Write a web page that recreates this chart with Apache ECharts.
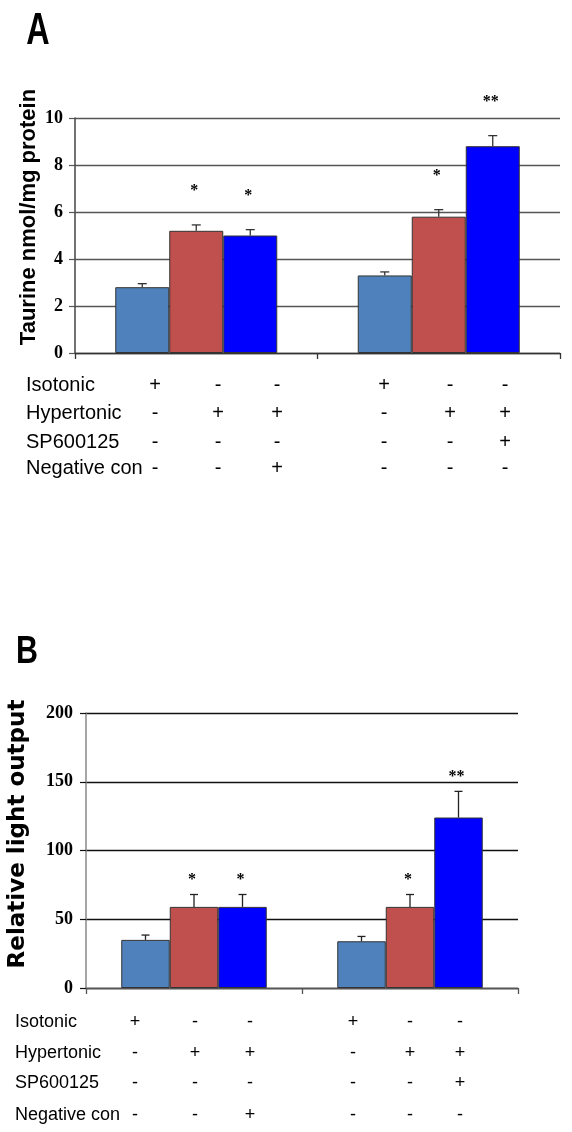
<!DOCTYPE html>
<html><head><meta charset="utf-8">
<script src="https://cdn.jsdelivr.net/npm/echarts@6/dist/echarts.min.js"></script>
<style>html,body{margin:0;padding:0;background:#fff}#c{width:572px;height:1132px}</style>
</head><body><div id="c"></div>
<script>
// ---------- data ----------
const groups = ['Group 1', 'Group 2'];
const seriesNames = ['Isotonic', 'Hypertonic', 'Treated'];
// Panel A: Taurine nmol/mg protein
const taurineIso = [2.8, 3.3];
const taurineHyper = [5.2, 5.8];
const taurineThird = [5.0, 8.8];
const taurineIsoErr = [0.15, 0.15];
const taurineHyperErr = [0.25, 0.3];
const taurineThirdErr = [0.25, 0.45];
// Panel B: Relative light output
const lightIso = [35, 34];
const lightHyper = [59, 59];
const lightThird = [59, 124];
const lightIsoErr = [3.5, 3.5];
const lightHyperErr = [9, 9];
const lightThirdErr = [9, 19];
// significance marks
const sigIso = ['', ''];
const sigHyper = ['*', '*'];
const sigThird = ['*', '**'];
// condition table
const rowLabels = ['Isotonic', 'Hypertonic', 'SP600125', 'Negative con'];
const rowIsotonic = ['+', '-', '-', '+', '-', '-'];
const rowHypertonic = ['-', '+', '+', '-', '+', '+'];
const rowSP600125 = ['-', '-', '-', '-', '-', '+'];
const rowNegative = ['-', '-', '+', '-', '-', '-'];
const panelLetters = ['A', 'B'];
const yNameA = 'Taurine nmol/mg protein';
const yNameB = 'Relative light output';

// ---------- styles / layout ----------
const colors = ['#4F81BD', '#C0504D', '#0000FF'];
const chart = echarts.init(document.getElementById('c'), null, {renderer: 'canvas'});

const layoutA = {top: 118, bottom: 779, left: 75, right: 12, barW: 54, errCap: 4.5, sigGap: 34,
  errColor: '#333', tableCols: [155, 218, 277, 384, 450, 505], tableRows: [385, 413, 442, 468], tableX: 26, tableFont: 20};
const layoutB = {top: 713, bottom: 144, left: 86, right: 54, barW: 48.5, errCap: 4, sigGap: 15,
  errColor: '#222', tableCols: [135, 195, 250, 353, 410, 460], tableRows: [1022, 1053, 1083, 1115], tableX: 15, tableFont: 18};

function barSeries(name, data, idx, gridIdx, L) {
  return {
    type: 'bar', name: name, data: data, xAxisIndex: gridIdx, yAxisIndex: gridIdx,
    barWidth: L.barW, barGap: '0%',
    itemStyle: {color: colors[idx], borderColor: '#333', borderWidth: 1},
    z: 2, silent: true
  };
}
function errSeries(vals, errs, sigs, idx, gridIdx, L) {
  return {
    type: 'custom', xAxisIndex: gridIdx, yAxisIndex: gridIdx, z: 5, silent: true,
    data: vals.map((v, i) => [i, v, errs[i]]),
    renderItem: function (params, api) {
      const ci = api.value(0), v = api.value(1), e = api.value(2);
      const off = (idx - 1) * L.barW;
      const base = api.coord([ci, v]);
      const top = api.coord([ci, v + e]);
      const x = base[0] + off;
      const children = [
        {type: 'line', shape: {x1: x, y1: base[1], x2: x, y2: top[1]}, style: {stroke: L.errColor, lineWidth: 1.3}},
        {type: 'line', shape: {x1: x - L.errCap, y1: top[1], x2: x + L.errCap, y2: top[1]}, style: {stroke: L.errColor, lineWidth: 1.3}}
      ];
      const s = sigs[params.dataIndex];
      if (s) {
        children.push({type: 'text', style: {text: s, x: x - 2, y: top[1] - L.sigGap, align: 'center', verticalAlign: 'middle',
          font: 'bold 16px "Liberation Serif", "Times New Roman", serif', fill: '#000'}});
      }
      return {type: 'group', children: children};
    }
  };
}
function xAxisFor(gridIdx, color) {
  return {
    type: 'category', data: groups, gridIndex: gridIdx,
    axisLine: {show: true, lineStyle: {color: color, width: 1.3}},
    axisTick: {show: true, length: 6, lineStyle: {color: color, width: 1.3}},
    axisLabel: {show: false}, splitLine: {show: false}
  };
}
function yAxisFor(gridIdx, max, interval, fontSize, margin, axisColor, gridColor) {
  return {
    type: 'value', gridIndex: gridIdx, min: 0, max: max, interval: interval,
    axisLine: {show: true, lineStyle: {color: axisColor, width: 1.5}},
    axisTick: {show: true, length: 6, inside: false, lineStyle: {color: gridColor, width: 1.2}},
    axisLabel: {color: '#000', fontFamily: '"Liberation Serif", "Times New Roman", serif', fontWeight: 'bold', fontSize: fontSize, margin: margin},
    splitLine: {show: true, lineStyle: {color: gridColor, width: 1.3}}
  };
}

const graphics = [];
// panel letters
graphics.push({type: 'text', x: 38, y: 32, scaleX: 0.72, style: {text: panelLetters[0], align: 'center', verticalAlign: 'middle',
  font: 'bold 45px "Liberation Sans", Arial, sans-serif', fill: '#000'}});
graphics.push({type: 'text', x: 27, y: 652, scaleX: 0.78, style: {text: panelLetters[1], align: 'center', verticalAlign: 'middle',
  font: 'bold 39px "Liberation Sans", Arial, sans-serif', fill: '#000'}});
// y-axis names
graphics.push({type: 'text', x: 29, y: 217, rotation: Math.PI / 2, style: {text: yNameA, align: 'center', verticalAlign: 'middle',
  font: 'bold 22px "Liberation Sans", Arial, sans-serif', fill: '#000'}});
graphics.push({type: 'text', x: 18, y: 834, rotation: Math.PI / 2, style: {text: yNameB, align: 'center', verticalAlign: 'middle',
  font: 'bold 23px "DejaVu Sans", Verdana, sans-serif', fill: '#000'}});
// condition tables
const tableRows = [rowIsotonic, rowHypertonic, rowSP600125, rowNegative];
[layoutA, layoutB].forEach(L => {
  rowLabels.forEach((lab, r) => {
    graphics.push({type: 'text', x: L.tableX, y: L.tableRows[r], style: {text: lab, align: 'left', verticalAlign: 'middle',
      font: L.tableFont + 'px "Liberation Sans", Arial, sans-serif', fill: '#000'}});
    tableRows[r].forEach((sym, c) => {
      graphics.push({type: 'text', x: L.tableCols[c], y: L.tableRows[r], style: {text: sym, align: 'center', verticalAlign: 'middle',
        font: L.tableFont + 'px "Liberation Sans", Arial, sans-serif', fill: '#000'}});
    });
  });
});

const option = {
  animation: false,
  backgroundColor: '#fff',
  grid: [
    {top: layoutA.top, bottom: layoutA.bottom, left: layoutA.left, right: layoutA.right, containLabel: false, outerBoundsMode: 'none'},
    {top: layoutB.top, bottom: layoutB.bottom, left: layoutB.left, right: layoutB.right, containLabel: false, outerBoundsMode: 'none'}
  ],
  xAxis: [xAxisFor(0, '#333'), xAxisFor(1, '#555')],
  yAxis: [yAxisFor(0, 10, 2, 18, 12, '#444', '#555'), yAxisFor(1, 200, 50, 18, 13, '#888', '#111')],
  series: [
    barSeries(seriesNames[0], taurineIso, 0, 0, layoutA),
    barSeries(seriesNames[1], taurineHyper, 1, 0, layoutA),
    barSeries(seriesNames[2], taurineThird, 2, 0, layoutA),
    errSeries(taurineIso, taurineIsoErr, sigIso, 0, 0, layoutA),
    errSeries(taurineHyper, taurineHyperErr, sigHyper, 1, 0, layoutA),
    errSeries(taurineThird, taurineThirdErr, sigThird, 2, 0, layoutA),
    barSeries(seriesNames[0], lightIso, 0, 1, layoutB),
    barSeries(seriesNames[1], lightHyper, 1, 1, layoutB),
    barSeries(seriesNames[2], lightThird, 2, 1, layoutB),
    errSeries(lightIso, lightIsoErr, sigIso, 0, 1, layoutB),
    errSeries(lightHyper, lightHyperErr, sigHyper, 1, 1, layoutB),
    errSeries(lightThird, lightThirdErr, sigThird, 2, 1, layoutB)
  ],
  graphic: graphics
};
chart.setOption(option);
</script>
</body></html>
